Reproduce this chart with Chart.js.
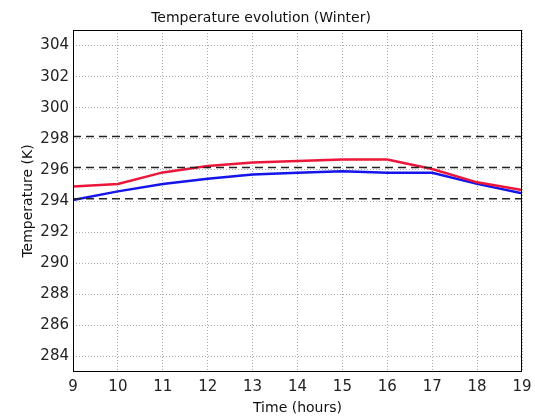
<!DOCTYPE html>
<html>
<head>
<meta charset="utf-8">
<script src="https://cdn.jsdelivr.net/npm/chart.js@4.4.0/dist/chart.umd.min.js"></script>
<style>
  body { margin: 0; background: #fff; }
  #wrap { width: 535px; height: 417px; }
</style>
</head>
<body>
<div id="wrap"><canvas id="myChart" width="535" height="417"></canvas></div>
<script>
// hours of the day
var hours = [9, 10, 11, 12, 13, 14, 15, 16, 17, 18, 19];
// red curve and blue curve (K)
var redTemp = [294.94, 295.1, 295.84, 296.25, 296.47, 296.58, 296.67, 296.67, 296.06, 295.2, 294.7];
var blueTemp = [294.06, 294.62, 295.1, 295.43, 295.7, 295.81, 295.92, 295.81, 295.81, 295.1, 294.5];
// dashed reference levels (K)
var refLevels = [298.15, 296.15, 294.15];
var xTicks = [9, 10, 11, 12, 13, 14, 15, 16, 17, 18, 19];
var yTicks = [284, 286, 288, 290, 292, 294, 296, 298, 300, 302, 304];

function pts(xs, ys) {
  var out = [];
  for (var i = 0; i < xs.length; i++) out.push({ x: xs[i], y: ys[i] });
  return out;
}

var datasets = [];
// dashed lines first so the curves sit on top
refLevels.forEach(function (lvl) {
  datasets.push({
    data: [{ x: hours[0], y: lvl }, { x: hours[hours.length - 1], y: lvl }],
    borderColor: '#222',
    borderWidth: 1.5,
    borderDash: [8, 5],
    pointRadius: 0,
    fill: false
  });
});
datasets.push({
  data: pts(hours, redTemp),
  borderColor: 'rgb(235,22,58)',
  borderWidth: 2.5,
  pointRadius: 0,
  tension: 0,
  fill: false
});
datasets.push({
  data: pts(hours, blueTemp),
  borderColor: 'rgb(20,20,235)',
  borderWidth: 2.5,
  pointRadius: 0,
  tension: 0,
  fill: false
});

// black box round the plot area
var boxPlugin = {
  id: 'box',
  afterDraw: function (chart) {
    var a = chart.chartArea, ctx = chart.ctx;
    ctx.save();
    ctx.strokeStyle = '#000';
    ctx.lineWidth = 1;
    ctx.strokeRect(a.left + 0.5, a.top + 0.5, a.right - a.left - 1, a.bottom - a.top - 1);
    ctx.restore();
  }
};

var tickFont = { family: 'DejaVu Sans', size: 15 };

var ctx = document.getElementById('myChart').getContext('2d');
var chart = new Chart(ctx, {
  type: 'line',
  data: { datasets: datasets },
  options: {
    responsive: false,
    animation: false,
    layout: { padding: { left: 0, right: 13, top: 0, bottom: 0 } },
    plugins: {
      legend: { display: false },
      tooltip: { enabled: false },
      title: {
        display: true,
        text: 'Temperature evolution (Winter)',
        color: '#111',
        font: { family: 'DejaVu Sans', size: 14, weight: 'normal' },
        padding: { top: 10, bottom: 3.2 }
      }
    },
    scales: {
      x: {
        type: 'linear',
        min: 9,
        max: 19,
        afterBuildTicks: function (s) { s.ticks = xTicks.map(function (v) { return { value: v }; }); },
        afterFit: function (s) { s.height = 45; s.paddingRight = 0; s.paddingLeft = 0; },
        ticks: { color: '#222', font: tickFont, padding: 6, maxRotation: 0 },
        grid: { color: '#aaa', lineWidth: 1, drawTicks: false },
        border: { display: false, dash: [1, 2] },
        title: {
          display: true,
          text: 'Time (hours)',
          color: '#111',
          font: { family: 'DejaVu Sans', size: 14 },
          padding: { top: 0, bottom: 0 }
        }
      },
      y: {
        min: 283,
        max: 305,
        afterBuildTicks: function (s) { s.ticks = yTicks.map(function (v) { return { value: v }; }); },
        afterFit: function (s) { s.width = 73; },
        ticks: { color: '#222', font: tickFont, padding: 4 },
        grid: { color: '#aaa', lineWidth: 1, drawTicks: false },
        border: { display: false, dash: [1, 2] },
        title: {
          display: true,
          text: 'Temperature (K)',
          color: '#111',
          font: { family: 'DejaVu Sans', size: 14 },
          padding: { top: 20, bottom: 0 }
        }
      }
    }
  },
  plugins: [boxPlugin]
});
</script>
</body>
</html>
